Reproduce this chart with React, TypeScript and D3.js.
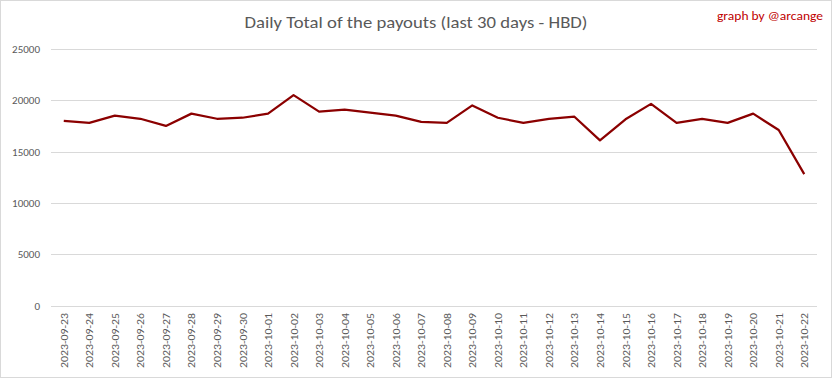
import React from "react";
import * as d3 from "d3";

const dates = [
  "2023-09-23","2023-09-24","2023-09-25","2023-09-26","2023-09-27","2023-09-28","2023-09-29","2023-09-30",
  "2023-10-01","2023-10-02","2023-10-03","2023-10-04","2023-10-05","2023-10-06","2023-10-07","2023-10-08",
  "2023-10-09","2023-10-10","2023-10-11","2023-10-12","2023-10-13","2023-10-14","2023-10-15","2023-10-16",
  "2023-10-17","2023-10-18","2023-10-19","2023-10-20","2023-10-21","2023-10-22",
];
const payouts = [
  18000, 17800, 18500, 18200, 17500, 18700, 18200, 18300,
  18700, 20500, 18900, 19100, 18800, 18500, 17900, 17800,
  19500, 18300, 17800, 18200, 18400, 16100, 18150, 19650,
  17800, 18200, 17800, 18700, 17100, 12800,
];
const yTicks = [0, 5000, 10000, 15000, 20000, 25000];
const title = "Daily Total of the payouts (last 30 days - HBD)";
const credit = "graph by @arcange";

export default function App() {
  const W = 833, H = 379;
  const left = 51, right = 817, top = 49, bottom = 305.5;
  const x = d3.scaleBand<string>().domain(dates).range([left, right]);
  const y = d3.scaleLinear().domain([0, 25000]).range([bottom, top]);
  const line = d3.line<number>()
    .x((_, i) => (x(dates[i]) as number) + x.bandwidth() / 2)
    .y((v) => y(v));
  const font = "Calibri, Carlito, 'Liberation Sans Narrow', 'Open Sans', sans-serif";
  return (
    <svg width={W} height={H} style={{ position: "absolute", left: 0, top: 0, background: "#fff" }} fontFamily={font}>
      <rect x={0.5} y={0.5} width={831} height={377} fill="#fff" stroke="#d9d9d9" />
      <text x={416} y={28} textAnchor="middle" fontSize={17} fill="#595959" textLength={343} lengthAdjust="spacingAndGlyphs">{title}</text>
      <text x={823} y={20} textAnchor="end" fontSize={11.5} fill="#c00000" textLength={106} lengthAdjust="spacingAndGlyphs">{credit}</text>
      {yTicks.map((t) => (
        <g key={t}>
          <line x1={left} x2={right} y1={Math.round(y(t)) + 0.5} y2={Math.round(y(t)) + 0.5} stroke="#d9d9d9" strokeWidth={1} />
          <text x={40} y={y(t) + 4} textAnchor="end" fontSize={11} fill="#595959">{t}</text>
        </g>
      ))}
      <path d={line(payouts) || ""} fill="none" stroke="#8b0000" strokeWidth={2.25} strokeLinejoin="round" />
      {dates.map((d) => {
        const cx = (x(d) as number) + x.bandwidth() / 2;
        return (
          <text key={d} transform={`translate(${cx + 4},313) rotate(-90)`} textAnchor="end" fontSize={11} fill="#595959" textLength={55} lengthAdjust="spacingAndGlyphs">{d}</text>
        );
      })}
    </svg>
  );
}
